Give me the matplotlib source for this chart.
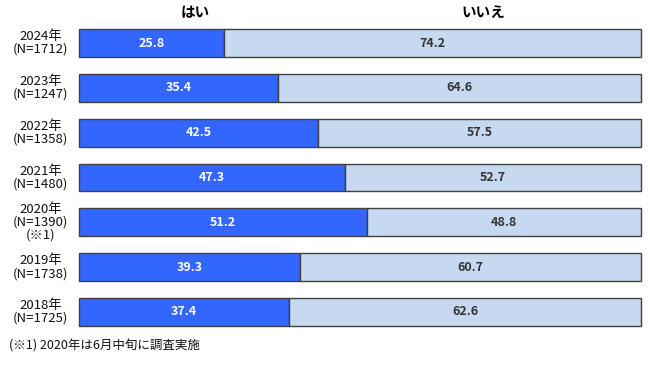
import matplotlib.pyplot as plt
import matplotlib.transforms as mtransforms

plt.rcParams['font.family'] = ['Noto Sans CJK JP', 'DejaVu Sans']

# data (top to bottom)
years = ["2024年\n(N=1712)", "2023年\n(N=1247)", "2022年\n(N=1358)", "2021年\n(N=1480)",
         "2020年\n(N=1390)\n(※1)", "2019年\n(N=1738)", "2018年\n(N=1725)"]
yes_vals = [25.8, 35.4, 42.5, 47.3, 51.2, 39.3, 37.4]
no_vals = [74.2, 64.6, 57.5, 52.7, 48.8, 60.7, 62.6]
headers = ["はい", "いいえ"]
note = "(※1) 2020年は6月中旬に調査実施"

fig = plt.figure(figsize=(6.5, 3.66), dpi=100)
ax = fig.add_axes([79 / 650, 1 - 334.4 / 366, 562 / 650, 313.8 / 366])

pos = list(range(len(years)))
b1 = ax.barh(pos, yes_vals, height=0.62, color="#3366ff", edgecolor="#404040", linewidth=1)
b2 = ax.barh(pos, no_vals, left=yes_vals, height=0.62, color="#c6d9f1", edgecolor="#404040", linewidth=1)
for p in list(b1) + list(b2):
    p.set_clip_on(False)

for i in pos:
    ax.text(yes_vals[i] / 2, i, f"{yes_vals[i]:.1f}", ha="center", va="center",
            color="white", fontsize=9, fontweight="bold")
    ax.text(yes_vals[i] + no_vals[i] / 2, i, f"{no_vals[i]:.1f}", ha="center", va="center",
            color="#333333", fontsize=9, fontweight="bold")

trans = mtransforms.blended_transform_factory(ax.transAxes, ax.transData)
for i, lab in enumerate(years):
    ax.text(-0.068, i, lab, transform=trans, ha="center", va="center",
            fontsize=9.5, linespacing=1.0, color="#111111")

ax.set_xlim(0, 100)
ax.set_ylim(6.5, -0.5)
ax.axis("off")

fig.text(195 / 650, 1 - 12 / 366, headers[0], ha="center", va="center", fontsize=10.5, fontweight="bold")
fig.text(483 / 650, 1 - 12 / 366, headers[1], ha="center", va="center", fontsize=10.5, fontweight="bold")
fig.text(9 / 650, 1 - 346 / 366, note, ha="left", va="center", fontsize=9, color="#111111")

fig.savefig("out.png", dpi=100)
